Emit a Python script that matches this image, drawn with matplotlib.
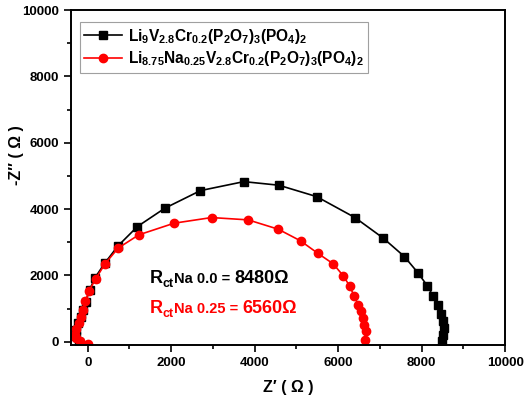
import matplotlib
matplotlib.use("Agg")
import matplotlib.pyplot as plt
from matplotlib.ticker import MultipleLocator
from matplotlib.transforms import offset_copy

plt.rcParams['font.family'] = ['Liberation Sans', 'DejaVu Sans']
plt.rcParams['font.weight'] = 'bold'
plt.rcParams['mathtext.fontset'] = 'custom'
plt.rcParams['mathtext.rm'] = 'Liberation Sans:bold'
plt.rcParams['mathtext.bf'] = 'Liberation Sans:bold'
plt.rcParams['mathtext.it'] = 'Liberation Sans:bold'

# Na 0.0 sample (black squares)
z_re_na0 = [-200, -280, -270, -230, -170, -110, -50, 48, 168, 408, 727, 1191, 1847, 2702,
            3741, 4580, 5484, 6403, 7082, 7586, 7906, 8137, 8281, 8386, 8460, 8510, 8530, 8520, 8500]
z_im_na0 = [0, 160, 360, 560, 760, 960, 1200, 1566, 1918, 2369, 2892, 3474, 4026, 4558,
            4828, 4720, 4377, 3745, 3123, 2570, 2088, 1687, 1365, 1094, 843, 611, 412, 211, 30]

# Na 0.25 sample (red circles)
z_re_na025 = [0, -192, -271, -312, -271, -216, -168, -113, -55, 31, 192, 408, 727, 1223, 2070,
              2966, 3845, 4564, 5100, 5508, 5883, 6123, 6283, 6379, 6482, 6540, 6588, 6627, 6660, 6640]
z_im_na025 = [-60, 9, 100, 200, 380, 563, 744, 964, 1214, 1536, 1898, 2340, 2822, 3223, 3575,
              3745, 3675, 3394, 3042, 2671, 2349, 1988, 1666, 1386, 1114, 913, 714, 512, 310, 60]

label_na0 = r'$\mathbf{Li_9V_{2.8}Cr_{0.2}(P_2O_7)_3(PO_4)_2}$'
label_na025 = r'$\mathbf{Li_{8.75}Na_{0.25}V_{2.8}Cr_{0.2}(P_2O_7)_3(PO_4)_2}$'

fig = plt.figure(figsize=(5.3, 4.05), dpi=100)
ax = fig.add_axes([0.134, 0.148, 0.819, 0.827])

ax.plot(z_re_na0, z_im_na0, color='black', marker='s', markersize=5.5, linewidth=1.2,
        label=label_na0)
ax.plot(z_re_na025, z_im_na025, color='red', marker='o', markersize=6, linewidth=1.2,
        label=label_na025)

ax.set_xlim(-400, 10000)
ax.set_ylim(-100, 10000)
ax.xaxis.set_major_locator(MultipleLocator(2000))
ax.xaxis.set_minor_locator(MultipleLocator(1000))
ax.yaxis.set_major_locator(MultipleLocator(2000))
ax.yaxis.set_minor_locator(MultipleLocator(1000))
ax.tick_params(which='both', direction='out', top=False, right=False, width=1.2,
               labelsize=9.5)
ax.tick_params(which='major', length=5)
ax.tick_params(which='minor', length=3)
for lbl in ax.get_xticklabels() + ax.get_yticklabels():
    lbl.set_fontweight('bold')
for s in ax.spines.values():
    s.set_linewidth(1.4)

ax.set_xlabel('Z\u2032 ( \u03a9 )', fontsize=11.5, fontweight='bold', labelpad=8)
ax.set_ylabel('-Z\u2032\u2032 ( \u03a9 )', fontsize=11.5, fontweight='bold')
ax.yaxis.set_label_coords(-0.108, 0.567)

leg = ax.legend(loc='upper left', bbox_to_anchor=(0.02, 0.965), fontsize=11.2,
                frameon=True, fancybox=False, edgecolor='#888888', handlelength=2.4,
                borderpad=0.3, labelspacing=0.25, handletextpad=0.4, borderaxespad=0)
leg.get_frame().set_linewidth(0.8)

# annotations composed of pieces with different sizes
def chain(x, y, pieces, color):
    fig.canvas.draw()
    r = fig.canvas.get_renderer()
    dx = 0.0
    for txt, size, dy in pieces:
        t = ax.text(x, y, txt, fontsize=size, fontweight='bold', color=color,
                    transform=offset_copy(ax.transData, fig=fig, x=dx, y=dy, units='dots'),
                    va='baseline', ha='left')
        bb = t.get_window_extent(renderer=r)
        dx += bb.width

chain(1480, 1770, [('R', 13, 0), ('ct', 9, -4), ('Na 0.0 = ', 10.5, 0), ('8480\u03a9', 13, 0)], 'black')
chain(1480, 880, [('R', 13, 0), ('ct', 9, -4), ('Na 0.25 = ', 10.5, 0), ('6560\u03a9', 13, 0)], 'red')

fig.savefig('out.png', dpi=100)
